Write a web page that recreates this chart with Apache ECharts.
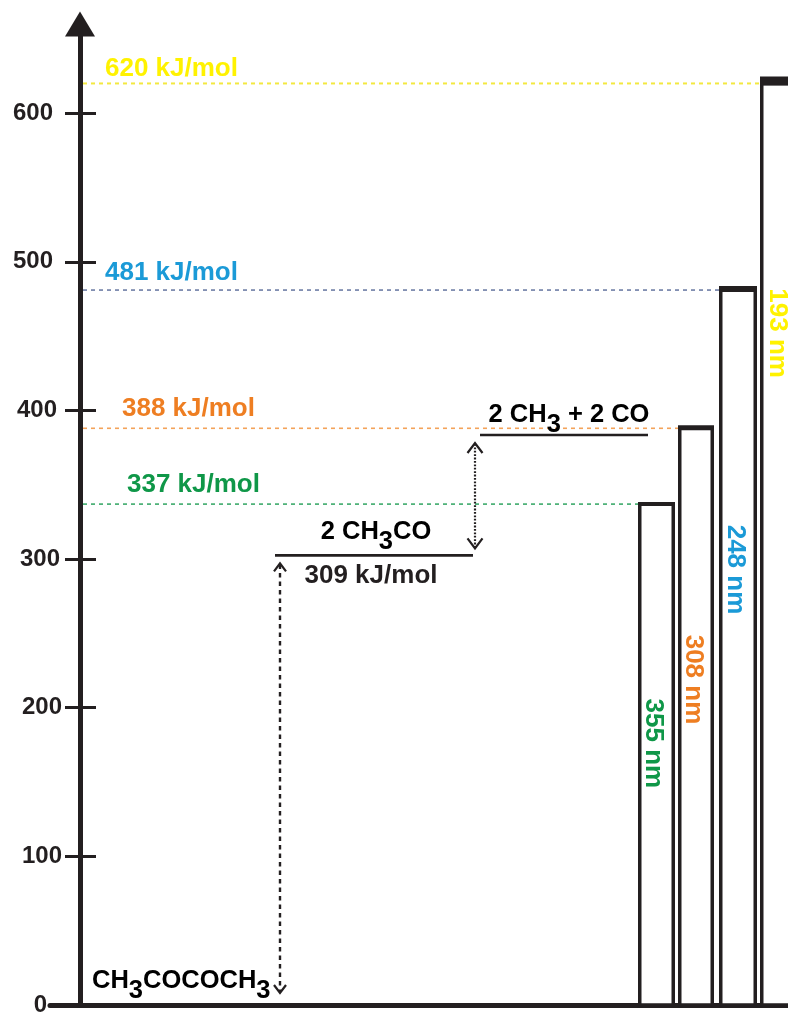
<!DOCTYPE html>
<html><head><meta charset="utf-8">
<script src="https://cdn.jsdelivr.net/npm/echarts@6/dist/echarts.min.js"></script>
<style>html,body{margin:0;padding:0;background:#fff}#c{width:788px;height:1012px}</style>
</head><body><div id="c"></div>
<script>
// ---------- data ----------
const yTicks = [0, 100, 200, 300, 400, 500, 600];
const photonEnergy = [337, 388, 481, 620];              // kJ/mol
const energyLabels = ['337 kJ/mol', '388 kJ/mol', '481 kJ/mol', '620 kJ/mol'];
const wavelengths = ['355 nm', '308 nm', '248 nm', '193 nm'];
const barStart = [558, 598, 639, 680];                  // reaction coordinate
const barEnd = [595, 634, 677, 720];
const levelNames = ['CH3COCOCH3', '2 CH3CO', '2 CH3 + 2 CO'];
const levelEnergy = [0, 302.5, 383.5];
const levelStart = [12, 195, 400];
const levelEnd = [190, 393, 568];
const bondEnergyLabel = '309 kJ/mol';
const arrowX = [200, 395];

// ---------- styles ----------
const ink = '#231F20';
const FONT = '"Liberation Sans", Arial, Helvetica, sans-serif';
const textColors = ['#0F9748', '#EE7E22', '#1B9AD7', '#FFF200'];
const lineColors = ['#3DAA6B', '#F4A35A', '#6F7EA6', '#F3E840'];
const barTopWidth = [4, 5, 6, 9];
const wavelengthLabelAt = [176, 219, 293, 452];
const refLabelX = [47, 42, 25, 25];
const refLabelDy = [-19, -19, -17, -15];
const levelLabelDx = [0, 2, 5];
const levelLabelDy = [-24, -23, -20];
const tickPad = {0: 15, 100: 0, 200: 0, 300: 2, 400: 5, 500: 9, 600: 9};

function chem(s) {
  return '{m|' + s.replace(/([A-Z])(\d)/g, '$1}{s|$2}{m|') + '}';
}
const chemRich = {
  m: {fontFamily: FONT, fontWeight: 'bold', fontSize: 25.5, lineHeight: 26, verticalAlign: 'top', color: ink},
  s: {fontFamily: FONT, fontWeight: 'bold', fontSize: 25.5, lineHeight: 26, verticalAlign: 'top', color: ink, padding: [10, 0, 0, 0]}
};

function renderRef(params, api) {
  const i = params.dataIndex;
  const v = api.value(1);
  const p0 = api.coord([3, v]);
  const p1 = api.coord([api.value(0), v]);
  const lp = api.coord([refLabelX[i], v]);
  return {type: 'group', children: [
    {type: 'line', shape: {x1: p0[0], y1: p0[1], x2: p1[0], y2: p1[1]},
     style: {stroke: lineColors[i], lineWidth: i === 3 ? 2 : 1.6, lineDash: [4, 4]}},
    {type: 'text', x: lp[0], y: lp[1] + refLabelDy[i],
     style: {text: energyLabels[i], fill: textColors[i], font: 'bold 26px ' + FONT,
             align: 'left', verticalAlign: 'middle', textAlign: 'left', textVerticalAlign: 'middle'}}
  ]};
}

function renderBar(params, api) {
  const i = params.dataIndex;
  const x0 = api.coord([api.value(0), 0])[0];
  const x1 = api.coord([api.value(1), 0])[0];
  const yTop = api.coord([0, api.value(2)])[1];
  const yBase = api.coord([0, 0])[1];
  const lw = 3.5, tw = barTopWidth[i];
  const lp = api.coord([(api.value(0) + api.value(1)) / 2, wavelengthLabelAt[i]]);
  return {type: 'group', children: [
    {type: 'rect', shape: {x: x0 + lw / 2, y: yTop, width: x1 - x0 - lw, height: yBase - yTop},
     style: {fill: '#fff', stroke: ink, lineWidth: lw}},
    {type: 'rect', shape: {x: x0, y: yTop + 2 - tw, width: x1 - x0, height: tw}, style: {fill: ink}},
    {type: 'text', x: lp[0] - 3, y: lp[1], rotation: -Math.PI / 2,
     style: {text: wavelengths[i], fill: textColors[i], font: 'bold 26px ' + FONT,
             align: 'center', verticalAlign: 'middle', textAlign: 'center', textVerticalAlign: 'middle'}}
  ]};
}

function renderLevel(params, api) {
  const i = params.dataIndex;
  const a = api.coord([api.value(0), api.value(2)]);
  const b = api.coord([api.value(1), api.value(2)]);
  const children = [];
  if (i > 0) {
    children.push({type: 'line', shape: {x1: a[0], y1: a[1], x2: b[0], y2: b[1]},
                   style: {stroke: ink, lineWidth: 2.7}});
  }
  const cx = i === 0 ? a[0] : (a[0] + b[0]) / 2 + levelLabelDx[i];
  children.push({type: 'text', x: cx, y: a[1] + levelLabelDy[i] - 13,
    style: {text: chem(levelNames[i]), rich: chemRich,
            align: i === 0 ? 'left' : 'center', textAlign: i === 0 ? 'left' : 'center',
            verticalAlign: 'top', textVerticalAlign: 'top'}});
  if (i === 1) {
    children.push({type: 'text', x: (a[0] + b[0]) / 2 - 3, y: a[1] + 20,
      style: {text: bondEnergyLabel, fill: ink, font: 'bold 26px ' + FONT,
              align: 'center', verticalAlign: 'middle', textAlign: 'center', textVerticalAlign: 'middle'}});
  }
  return {type: 'group', children: children};
}

const arrowDash = [[4.5, 4], [1.8, 1.6]];
const arrowWidth = [2.4, 2.2];
const arrowGapTop = [8, 8];
const arrowGapBottom = [12, 7];
const arrowHead = [[6, 8], [7.5, 10]];
function renderArrow(params, api) {
  const i = params.dataIndex;
  const top = api.coord([api.value(0), api.value(2)]);
  const bot = api.coord([api.value(0), api.value(1)]);
  const x = top[0];
  const yT = top[1] + arrowGapTop[i];
  const yB = bot[1] - arrowGapBottom[i];
  const hw = arrowHead[i][0], hh = arrowHead[i][1];
  const st = {stroke: ink, lineWidth: 2.2, fill: null};
  return {type: 'group', children: [
    {type: 'line', shape: {x1: x, y1: yT + 1, x2: x, y2: yB - 1},
     style: {stroke: ink, lineWidth: arrowWidth[i], lineDash: arrowDash[i]}},
    {type: 'polyline', shape: {points: [[x - hw, yT + hh], [x, yT], [x + hw, yT + hh]]}, style: st},
    {type: 'polyline', shape: {points: [[x - hw, yB - hh], [x, yB], [x + hw, yB - hh]]}, style: st}
  ]};
}

const chart = echarts.init(document.getElementById('c'), null, {renderer: 'canvas'});
chart.setOption({
  animation: false,
  backgroundColor: '#fff',
  grid: {left: 50, right: 0, top: 24, bottom: 7, containLabel: false, outerBoundsMode: 'none'},
  xAxis: {
    type: 'value', min: -30, max: 708,
    axisLine: {show: true, onZero: false, lineStyle: {color: ink, width: 5}},
    axisTick: {show: false}, axisLabel: {show: false}, splitLine: {show: false}
  },
  yAxis: [{
    type: 'value', position: 'left', min: 0, max: 660, interval: 100, offset: -30,
    axisLine: {show: true, onZero: false, symbol: ['none', 'triangle'], symbolSize: [30, 25],
               lineStyle: {color: ink, width: 5}},
    axisTick: {show: true, inside: false, length: 15, customValues: yTicks, lineStyle: {color: ink, width: 3}},
    axisLabel: {
      customValues: yTicks, margin: 18,
      formatter: function (v) { return '{p' + v + '|' + v + '}'; },
      rich: (function () {
        const r = {};
        yTicks.forEach(function (t) {
          r['p' + t] = {fontFamily: FONT, fontWeight: 'bold', fontSize: 24, color: ink,
                        padding: [0, tickPad[t], 0, 0]};
        });
        return r;
      })()
    },
    splitLine: {show: false}
  }, {
    type: 'value', position: 'left', min: 0, max: 660, interval: 100, offset: -30,
    axisLine: {show: false, onZero: false},
    axisTick: {show: true, inside: true, length: 16, customValues: yTicks, lineStyle: {color: ink, width: 3}},
    axisLabel: {show: false}, splitLine: {show: false}
  }],
  series: [
    {type: 'custom', name: 'photon', renderItem: renderRef, z: 2,
     data: photonEnergy.map(function (e, i) { return [barStart[i], e]; })},
    {type: 'custom', name: 'bars', renderItem: renderBar, z: 3,
     data: photonEnergy.map(function (e, i) { return [barStart[i], barEnd[i], e]; })},
    {type: 'custom', name: 'levels', renderItem: renderLevel, z: 4,
     data: levelEnergy.map(function (e, i) { return [levelStart[i], levelEnd[i], e]; })},
    {type: 'custom', name: 'arrows', renderItem: renderArrow, z: 4,
     data: arrowX.map(function (x, i) { return [x, levelEnergy[i], levelEnergy[i + 1]]; })}
  ]
});
</script>
</body></html>
